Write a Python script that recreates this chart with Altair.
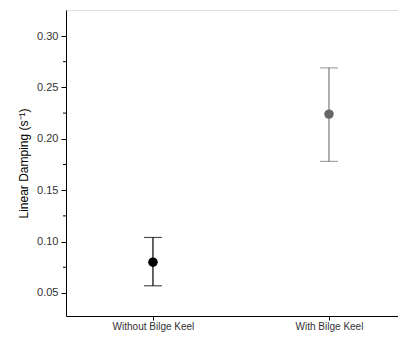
import altair as alt
import pandas as pd

categories = ["Without Bilge Keel", "With Bilge Keel"]
positions = [1, 2]
means = [0.080, 0.224]
lows = [0.057, 0.178]
highs = [0.104, 0.269]
point_colors = ["#000000", "#666666"]
bar_colors = ["#000000", "#7a7a7a"]
minor_ticks = [0.075, 0.125, 0.175, 0.225, 0.275]

df = pd.DataFrame({
    "cat": categories, "pos": positions, "mean": means,
    "low": lows, "high": highs, "pc": point_colors, "bc": bar_colors,
})
mdf = pd.DataFrame({"v": minor_ticks})

ydom = [0.0276, 0.3253]
xdom = [0.506, 2.392]
font = "Liberation Sans"

xenc = alt.X("pos:Q", scale=alt.Scale(domain=xdom, nice=False, zero=False),
             axis=alt.Axis(values=positions, title=None,
                           labelExpr="datum.value == 1 ? 'Without Bilge Keel' : 'With Bilge Keel'",
                           grid=False, tickSize=4, labelFontSize=10, labelColor="#333333",
                           labelFont=font, domainColor="#000000", tickColor="#000000",
                           labelPadding=1))
yscale = alt.Scale(domain=ydom, nice=False, zero=False)
yaxis = alt.Axis(values=[0.05, 0.10, 0.15, 0.20, 0.25, 0.30], format=".2f",
                 title="Linear Damping (s⁻¹)", grid=False, tickSize=5,
                 labelFontSize=11, labelColor="#333333", labelFont=font,
                 titleFont=font, titleFontSize=12, titleFontWeight="normal",
                 titleColor="#000000", titlePadding=6,
                 domainColor="#000000", tickColor="#000000", labelPadding=3)

base = alt.Chart(df)
rules = base.mark_rule(strokeWidth=1.2).encode(
    x=xenc, y=alt.Y("low:Q", scale=yscale, axis=yaxis), y2="high:Q",
    color=alt.Color("bc:N", scale=None))
caps_hi = base.mark_tick(orient="horizontal", size=18, thickness=1.2).encode(
    x="pos:Q", y=alt.Y("high:Q", scale=yscale), color=alt.Color("bc:N", scale=None))
caps_lo = base.mark_tick(orient="horizontal", size=18, thickness=1.2).encode(
    x="pos:Q", y=alt.Y("low:Q", scale=yscale), color=alt.Color("bc:N", scale=None))
pts = base.mark_point(filled=True, size=90, opacity=1).encode(
    x="pos:Q", y=alt.Y("mean:Q", scale=yscale), color=alt.Color("pc:N", scale=None))
minor = alt.Chart(mdf).mark_rule(color="#000000", strokeWidth=1).encode(
    x=alt.value(-3), x2=alt.value(0), y=alt.Y("v:Q", scale=yscale))

chart = alt.layer(rules, caps_hi, caps_lo, pts, minor).properties(
    width=332, height=306,
    autosize=alt.AutoSizeParams(type="none"),
    padding={"left": 58, "top": 2, "right": 0, "bottom": 18},
).configure_view(stroke=None).configure(background="white")

chart.save("out.html", embed_options={"renderer": "svg", "actions": False})
